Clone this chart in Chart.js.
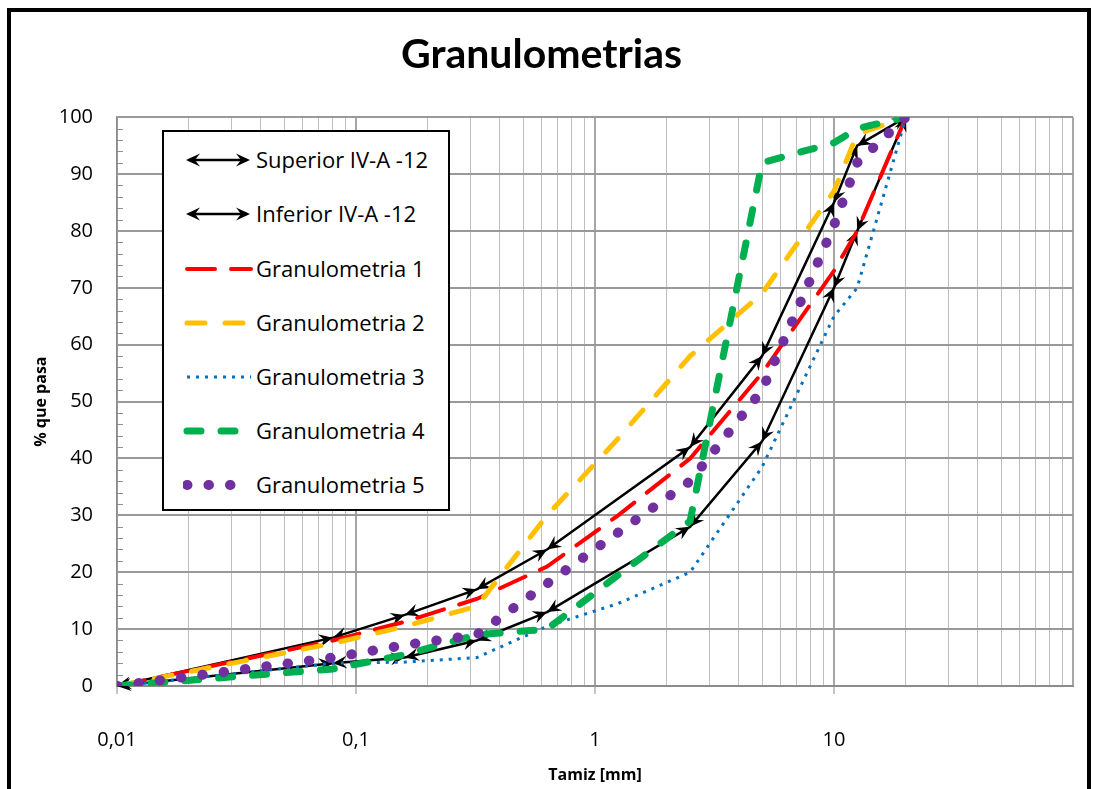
<!DOCTYPE html>
<html>
<head>
<meta charset="utf-8">
<script src="https://cdn.jsdelivr.net/npm/chart.js@4.4.1/dist/chart.umd.min.js"></script>
<style>
  body { margin: 0; background: #fff; overflow: hidden; }
  #caja { position: relative; width: 1093px; height: 789px; }
  #marco { position: absolute; left: 7px; top: 8px; width: 1076px; height: 900px; border: 4px solid #000; pointer-events: none; }
  #leyenda { position: absolute; left: 162px; top: 130px; width: 284px; height: 377px; border: 2px solid #000; background: #fff; font-family: "Open Sans", sans-serif; font-size: 22px; color: #000; }
  .fila { position: absolute; left: 0; height: 24px; width: 284px; }
  .fila svg { position: absolute; left: 19px; top: 2px; }
  .fila span { position: absolute; left: 92px; top: -4px; white-space: nowrap; }
</style>
</head>
<body>
<div id="caja">
  <canvas id="myChart" width="1093" height="789"></canvas>
  <div id="leyenda"></div>
  <div id="marco"></div>
</div>
<script>
// tamices (mm)
var tamices = [0.01, 0.08, 0.16, 0.32, 0.63, 1.25, 2.5, 5, 10, 12.5, 20];
var tamicesHuso = [0.01, 0.08, 0.16, 0.32, 0.63, 2.5, 5, 10, 12.5, 20];

// % que pasa
var superior = [0, 8.5, 12.5, 17, 24, 42, 58, 85, 95, 100];
var inferior = [0, 4, 5, 8, 13, 28, 43, 70, 80, 100];
var gran1 = [0, 8, 11.3, 15.3, 21, 30, 40, 55, 73, 80, 100];
var gran2 = [0, 7.5, 10.5, 14, 30, 43.5, 58, 69, 87, 97, 100];
var gran3 = [0, 4, 4.2, 5, 10.5, 14.5, 20, 38.5, 65, 70, 100];
var gran4 = [0, 3, 5.5, 9, 10, 19.5, 29, 92, 95.5, 98, 100];
var gran5 = [0, 5, 7.2, 9, 18, 27, 36, 52, 81, 92, 100];

// etiquetas del eje x
var valoresX = [0.01, 0.1, 1, 10];
var etiquetasX = ['0,01', '0,1', '1', '10'];

function puntos(xs, ys) {
  return xs.map(function (x, i) { return { x: x, y: ys[i] }; });
}

var series = [
  { label: 'Superior IV-A -12', data: puntos(tamicesHuso, superior), color: '#000000', width: 2.5, dash: [], cap: 'butt', flechas: true },
  { label: 'Inferior IV-A -12', data: puntos(tamicesHuso, inferior), color: '#000000', width: 2.5, dash: [], cap: 'butt', flechas: true },
  { label: 'Granulometria 1', data: puntos(tamices, gran1), color: '#ff0000', width: 4, dash: [28, 16], cap: 'round' },
  { label: 'Granulometria 2', data: puntos(tamices, gran2), color: '#ffc000', width: 5, dash: [18, 20], cap: 'round' },
  { label: 'Granulometria 3', data: puntos(tamices, gran3), color: '#0070c0', width: 3, dash: [3, 6], cap: 'butt' },
  { label: 'Granulometria 4', data: puntos(tamices, gran4), color: '#00b050', width: 7, dash: [14, 20], cap: 'round' },
  { label: 'Granulometria 5', data: puntos(tamices, gran5), color: '#7030a0', width: 10, dash: [0.5, 21], cap: 'round' }
];

function esMayor(v) {
  var l = Math.log10(v);
  return Math.abs(l - Math.round(l)) < 1e-9;
}

function punta(ctx, x, y, ang) {
  ctx.save();
  ctx.translate(x, y);
  ctx.rotate(ang);
  ctx.beginPath();
  ctx.moveTo(0, 0);
  ctx.lineTo(-14, -6.5);
  ctx.lineTo(-9, 0);
  ctx.lineTo(-14, 6.5);
  ctx.closePath();
  ctx.fill();
  ctx.restore();
}

// flechas en cada tramo de los husos
var flechas = {
  id: 'flechas',
  afterDatasetDraw: function (chart, args) {
    var ds = chart.data.datasets[args.index];
    if (!ds.flechas) return;
    var ctx = chart.ctx;
    var pts = args.meta.data;
    ctx.save();
    ctx.fillStyle = ds.borderColor;
    for (var i = 0; i < pts.length - 1; i++) {
      var a = pts[i], b = pts[i + 1];
      var ang = Math.atan2(b.y - a.y, b.x - a.x);
      punta(ctx, b.x, b.y, ang);
      punta(ctx, a.x, a.y, ang + Math.PI);
    }
    ctx.restore();
  }
};

// marcas menores del eje y
var marcasY = {
  id: 'marcasY',
  beforeDatasetsDraw: function (chart) {
    var y = chart.scales.y, ctx = chart.ctx;
    ctx.save();
    ctx.strokeStyle = '#8c8c8c';
    ctx.lineWidth = 1;
    for (var v = 2; v < 100; v += 2) {
      if (v % 10 === 0) continue;
      var py = Math.round(y.getPixelForValue(v)) + 0.5;
      ctx.beginPath();
      ctx.moveTo(y.right, py);
      ctx.lineTo(y.right + 6, py);
      ctx.stroke();
    }
    ctx.restore();
  }
};

var ctx = document.getElementById('myChart');

new Chart(ctx, {
  type: 'scatter',
  data: {
    datasets: series.map(function (s, i) {
      return {
        label: s.label,
        data: s.data,
        showLine: true,
        borderColor: s.color,
        backgroundColor: s.color,
        borderWidth: s.width,
        borderDash: s.dash,
        borderCapStyle: s.cap,
        pointRadius: 0,
        tension: 0,
        fill: false,
        order: series.length - i,
        flechas: !!s.flechas
      };
    })
  },
  options: {
    responsive: false,
    animation: false,
    layout: { padding: { left: 10, right: 20, top: 0, bottom: 0 } },
    plugins: {
      legend: { display: false },
      tooltip: { enabled: false },
      title: {
        display: true,
        text: 'Granulometrias',
        color: '#000',
        font: { family: 'Lato', size: 41, weight: 'bold' },
        padding: { top: 30, bottom: 38 }
      }
    },
    scales: {
      x: {
        type: 'logarithmic',
        min: 0.01,
        max: 100,
        afterBuildTicks: function (scale) {
          var t = [];
          for (var e = -2; e <= 1; e++) {
            for (var k = 1; k <= 9; k++) t.push({ value: k * Math.pow(10, e) });
          }
          t.push({ value: 100 });
          scale.ticks = t;
        },
        afterFit: function (scale) {
          scale.height = 103;
          scale.paddingLeft = 0;
          scale.paddingRight = 0;
        },
        ticks: {
          autoSkip: false,
          maxRotation: 0,
          padding: 34,
          color: '#000',
          font: { family: 'Open Sans', size: 20 },
          callback: function (value) {
            for (var i = 0; i < valoresX.length; i++) {
              if (Math.abs(value - valoresX[i]) < valoresX[i] * 1e-6) return etiquetasX[i];
            }
            return '';
          }
        },
        grid: {
          color: function (c) { return c.tick && esMayor(c.tick.value) ? '#a6a6a6' : '#bfbfbf'; },
          lineWidth: function (c) { return c.tick && esMayor(c.tick.value) ? 2 : 1; },
          tickColor: function (c) { return c.tick && esMayor(c.tick.value) && c.tick.value < 100 ? '#8c8c8c' : 'rgba(0,0,0,0)'; },
          tickLength: 8,
          tickWidth: 1
        },
        border: { color: '#8c8c8c', width: 2 },
        title: {
          display: true,
          text: 'Tamiz [mm]',
          color: '#000',
          font: { family: 'Open Sans', size: 16, weight: 'bold' },
          padding: { top: 0, bottom: 4 }
        }
      },
      y: {
        min: 0,
        max: 100,
        afterFit: function (scale) { scale.width = 107; },
        ticks: {
          stepSize: 10,
          padding: 24,
          color: '#000',
          font: { family: 'Open Sans', size: 20 }
        },
        grid: { color: '#999999', lineWidth: 2, drawTicks: false },
        border: { color: '#8c8c8c', width: 1.5 },
        title: {
          display: true,
          text: '% que pasa',
          color: '#000',
          font: { family: 'Open Sans', size: 16, weight: 'bold' },
          padding: { top: 22, bottom: 0 }
        }
      }
    }
  },
  plugins: [flechas, marcasY]
});

// leyenda
var centros = [28, 82, 137, 191, 245, 299, 353];
var leyenda = document.getElementById('leyenda');
series.forEach(function (s, i) {
  var fila = document.createElement('div');
  fila.className = 'fila';
  fila.style.top = (centros[i] - 12) + 'px';
  var svg;
  if (s.flechas) {
    svg = '<svg width="70" height="20"><line x1="6" y1="10" x2="64" y2="10" stroke="#000" stroke-width="2.5"/>' +
      '<polygon points="3,10 17,3.5 12,10 17,16.5" fill="#000"/>' +
      '<polygon points="67,10 53,3.5 58,10 53,16.5" fill="#000"/></svg>';
  } else {
    svg = '<svg width="70" height="20"><line x1="4" y1="10" x2="68" y2="10" stroke="' + s.color +
      '" stroke-width="' + s.width + '" stroke-dasharray="' + s.dash.join(' ') +
      '" stroke-linecap="' + s.cap + '"/></svg>';
  }
  fila.innerHTML = svg + '<span>' + s.label + '</span>';
  leyenda.appendChild(fila);
});
</script>
</body>
</html>
